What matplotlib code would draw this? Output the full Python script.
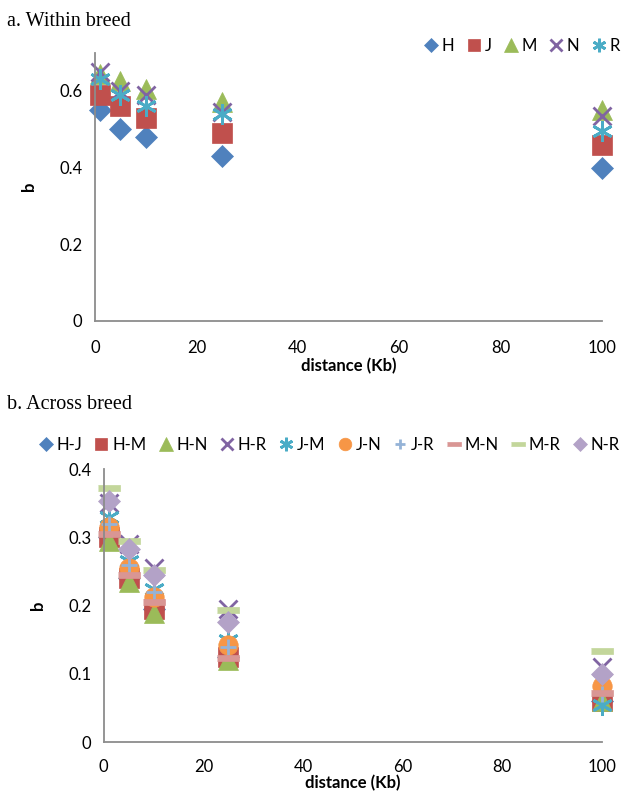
import matplotlib
matplotlib.use("Agg")
import matplotlib.pyplot as plt

plt.rcParams['font.family'] = ['Lato', 'DejaVu Sans']

# distance (Kb)
dist = [1, 5, 10, 25, 100]

# a. within breed
within_names = ["H", "J", "M", "N", "R"]
H = [0.55, 0.50, 0.48, 0.43, 0.40]
J = [0.59, 0.56, 0.53, 0.49, 0.46]
M = [0.645, 0.625, 0.605, 0.57, 0.55]
N = [0.65, 0.60, 0.59, 0.545, 0.535]
R = [0.63, 0.59, 0.56, 0.54, 0.495]
within_vals = [H, J, M, N, R]

# b. across breed
across_names = ["H-J", "H-M", "H-N", "H-R", "J-M", "J-N", "J-R", "M-N", "M-R", "N-R"]
HJ = [0.30, 0.24, 0.195, 0.125, 0.06]
HM = [0.30, 0.24, 0.195, 0.125, 0.06]
HN = [0.295, 0.235, 0.19, 0.12, 0.06]
HR = [0.35, 0.29, 0.255, 0.195, 0.11]
JM = [0.33, 0.265, 0.225, 0.15, 0.055]
JN = [0.315, 0.255, 0.213, 0.143, 0.082]
JR = [0.32, 0.26, 0.22, 0.14, 0.07]
MN = [0.305, 0.245, 0.205, 0.123, 0.072]
MR = [0.373, 0.295, 0.253, 0.194, 0.133]
NR = [0.354, 0.283, 0.245, 0.176, 0.10]
across_vals = [HJ, HM, HN, HR, JM, JN, JR, MN, MR, NR]

bar = [(-1, -0.3), (1, -0.3), (1, 0.3), (-1, 0.3)]
# marker, color, size, filled
styles = [
    ("D", "#4F81BD", 11, True),
    ("s", "#C0504D", 14, True),
    ("^", "#9BBB59", 15, True),
    ("x", "#8064A2", 13, False),
    ((6, 2, 0), "#4BACC6", 15, False),
    ("o", "#F79646", 14, True),
    ("+", "#95B3D7", 12, False),
    (bar, "#D99694", 16, True),
    (bar, "#C3D69B", 16, True),
    ("D", "#B3A2C7", 11, True),
]

fig = plt.figure(figsize=(6.21, 7.98), dpi=100)


def style_axes(ax, xpad, tpad):
    for s in ["top", "right"]:
        ax.spines[s].set_visible(False)
    for s in ["left", "bottom"]:
        ax.spines[s].set_color("#8c8c8c")
        ax.spines[s].set_linewidth(1.3)
    ax.tick_params(length=0, labelsize=12)
    ax.tick_params(axis="x", pad=tpad)
    ax.tick_params(axis="y", pad=9)
    ax.set_xlim(0, 100)
    ax.set_xticks([0, 20, 40, 60, 80, 100])
    ax.set_xlabel("distance (Kb)", fontsize=12, fontweight="bold", labelpad=xpad)
    ax.set_ylabel("b", fontsize=12, fontweight="bold", labelpad=16)


def draw(ax, names, vals, legend_anchor):
    for i, (name, v) in enumerate(zip(names, vals)):
        mk, col, ms, filled = styles[i]
        if filled:
            ax.plot(dist, v, linestyle="none", marker=mk, ms=ms, color=col,
                    mec=col, mew=0.5, label=name, clip_on=False)
        else:
            ax.plot(dist, v, linestyle="none", marker=mk, ms=ms, color=col,
                    mew=2, label=name, clip_on=False)
    leg = ax.legend(loc="upper right", bbox_to_anchor=legend_anchor,
                    bbox_transform=fig.transFigure, ncol=len(names),
                    frameon=False, fontsize=12, markerscale=0.65,
                    handlelength=0.8, handletextpad=0.25, columnspacing=0.75,
                    borderaxespad=0, borderpad=0)
    return leg


ax1 = fig.add_axes([0.153, 0.598, 0.816, 0.336])
style_axes(ax1, 1, 14)
ax1.set_ylim(0, 0.7)
ax1.set_yticks([0, 0.2, 0.4, 0.6])
ax1.set_yticklabels(["0", "0.2", "0.4", "0.6"])
draw(ax1, within_names, within_vals, (0.998, 0.952))

ax2 = fig.add_axes([0.167, 0.070, 0.802, 0.342])
style_axes(ax2, 0, 12)
ax2.set_ylim(0, 0.4)
ax2.set_yticks([0, 0.1, 0.2, 0.3, 0.4])
ax2.set_yticklabels(["0", "0.1", "0.2", "0.3", "0.4"])
draw(ax2, across_names, across_vals, (0.998, 0.452))

fig.text(0.012, 0.968, "a. Within breed", fontsize=14.5,
         family="Liberation Serif", va="baseline")
fig.text(0.012, 0.487, "b. Across breed", fontsize=14.5,
         family="Liberation Serif", va="baseline")

fig.savefig("out.png", dpi=100)
